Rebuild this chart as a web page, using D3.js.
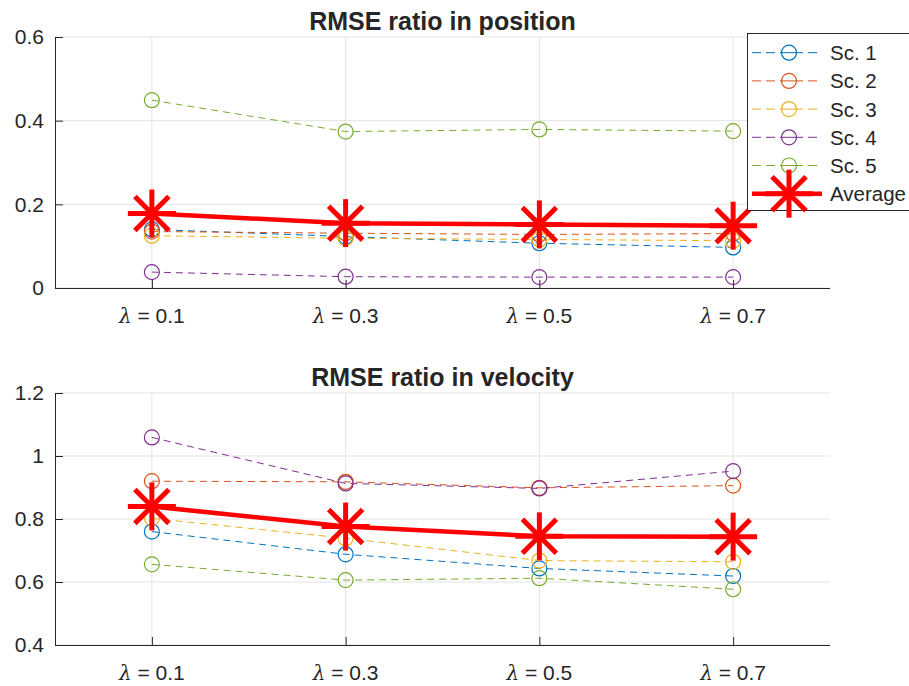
<!DOCTYPE html>
<html>
<head>
<meta charset="utf-8">
<script src="https://cdn.jsdelivr.net/npm/d3@7"></script>
<style>
  html, body { margin: 0; padding: 0; background: #fff; }
  svg { display: block; }
  text { font-family: "Liberation Sans", Arial, Helvetica, sans-serif; fill: #262626; }
</style>
</head>
<body>
<svg id="chart" width="909" height="686"></svg>
<script>
// ---- data ----
const lambdas = [0.1, 0.3, 0.5, 0.7];
const xTickLabels = ["0.1", "0.3", "0.5", "0.7"];
const seriesNames = ["Sc. 1", "Sc. 2", "Sc. 3", "Sc. 4", "Sc. 5"];
const averageName = "Average";

const posSc1 = [0.140, 0.123, 0.107, 0.097];
const posSc2 = [0.135, 0.131, 0.128, 0.130];
const posSc3 = [0.125, 0.119, 0.116, 0.113];
const posSc4 = [0.038, 0.027, 0.026, 0.026];
const posSc5 = [0.449, 0.374, 0.379, 0.375];
const posAvg = [0.178, 0.155, 0.152, 0.149];
const posYTicks = [0, 0.2, 0.4, 0.6];

const velSc1 = [0.760, 0.688, 0.643, 0.619];
const velSc2 = [0.920, 0.918, 0.899, 0.906];
const velSc3 = [0.802, 0.739, 0.668, 0.664];
const velSc4 = [1.059, 0.913, 0.897, 0.952];
const velSc5 = [0.656, 0.606, 0.612, 0.577];
const velAvg = [0.840, 0.776, 0.745, 0.744];
const velYTicks = [0.4, 0.6, 0.8, 1.0, 1.2];

const colors = ["#0072BD", "#D95319", "#EDB120", "#7E2F8E", "#77AC30"];
const avgColor = "#FF0000";

// ---- drawing ----
const svg = d3.select("#chart");
const axisColor = "#262626";
const gridColor = "#e3e3e3";
const left = 55, right = 830;

function star(g, cx, cy, r, w) {
  const angles = [0, 45, 90, 135];
  angles.forEach(a => {
    const rad = a * Math.PI / 180;
    const dx = Math.cos(rad) * r, dy = Math.sin(rad) * r;
    g.append("line")
      .attr("x1", cx - dx).attr("y1", cy - dy)
      .attr("x2", cx + dx).attr("y2", cy + dy)
      .attr("stroke", avgColor).attr("stroke-width", w);
  });
}

function panel(opts) {
  const { top, bottom, yDomain, yTicks, title, series, avg, yFmt } = opts;
  const x = d3.scaleLinear().domain([0, 0.8]).range([left, right]);
  const y = d3.scaleLinear().domain(yDomain).range([bottom, top]);
  const g = svg.append("g");

  // grid
  g.append("g").selectAll("line").data(yTicks).join("line")
    .attr("x1", left).attr("x2", right)
    .attr("y1", d => y(d)).attr("y2", d => y(d))
    .attr("stroke", gridColor).attr("stroke-width", 1);
  g.append("g").selectAll("line").data(lambdas).join("line")
    .attr("x1", d => x(d)).attr("x2", d => x(d))
    .attr("y1", top).attr("y2", bottom)
    .attr("stroke", gridColor).attr("stroke-width", 1);

  // axes (inward ticks)
  const yAxis = d3.axisLeft(y).tickValues(yTicks).tickSize(-8).tickPadding(11)
    .tickFormat(yFmt);
  const ya = g.append("g").attr("transform", `translate(${left},0)`).call(yAxis);
  const xAxis = d3.axisBottom(x).tickValues(lambdas).tickSize(-8).tickPadding(0)
    .tickFormat(() => "");
  const xa = g.append("g").attr("transform", `translate(0,${bottom})`).call(xAxis);
  [ya, xa].forEach(a => {
    a.select(".domain").attr("stroke", axisColor).attr("stroke-width", 1);
    a.selectAll(".tick line").attr("stroke", axisColor);
    a.selectAll("text").attr("font-size", 21).attr("fill", axisColor)
      .attr("font-family", '"Liberation Sans", Arial, sans-serif');
  });
  // replace x domain path (no outer ticks)
  xa.select(".domain").attr("d", `M${left},0.5H${right}`);
  ya.select(".domain").attr("d", `M0.5,${bottom}V${top}`);

  // x tick labels with italic lambda
  const xl = g.append("g");
  lambdas.forEach((d, i) => {
    const t = xl.append("text")
      .attr("x", x(d)).attr("y", bottom + 35)
      .attr("text-anchor", "middle").attr("font-size", 21);
    t.append("tspan").attr("font-style", "italic")
      .attr("font-family", '"DejaVu Serif", serif').attr("font-size", 20).text("λ");
    t.append("tspan").text(" = " + xTickLabels[i]);
  });

  // title
  g.append("text").attr("x", (left + right) / 2).attr("y", top - 7)
    .attr("text-anchor", "middle").attr("font-size", 25).attr("font-weight", "bold")
    .attr("fill", "#000").text(title);

  const line = d3.line().x((d, i) => x(lambdas[i])).y(d => y(d));
  series.forEach((s, k) => {
    g.append("path").datum(s).attr("d", line)
      .attr("fill", "none").attr("stroke", colors[k]).attr("stroke-width", 1)
      .attr("stroke-dasharray", "7,5");
    g.append("g").selectAll("circle").data(s).join("circle")
      .attr("cx", (d, i) => x(lambdas[i])).attr("cy", d => y(d)).attr("r", 7.5)
      .attr("fill", "none").attr("stroke", colors[k]).attr("stroke-width", 1.2);
  });
  g.append("path").datum(avg).attr("d", line)
    .attr("fill", "none").attr("stroke", avgColor).attr("stroke-width", 4.5);
  avg.forEach((d, i) => star(g, x(lambdas[i]), y(d), 24, 5));
}

const fmt = d => (d === 0 ? "0" : d3.format("")(+d.toFixed(1)));

panel({ top: 37, bottom: 288, yDomain: [0, 0.6], yTicks: posYTicks,
  title: "RMSE ratio in position",
  series: [posSc1, posSc2, posSc3, posSc4, posSc5], avg: posAvg, yFmt: fmt });
panel({ top: 393, bottom: 645, yDomain: [0.4, 1.2], yTicks: velYTicks,
  title: "RMSE ratio in velocity",
  series: [velSc1, velSc2, velSc3, velSc4, velSc5], avg: velAvg, yFmt: fmt });

// legend
const lg = svg.append("g");
const lx = 747, ly = 33, lw = 170, lh = 177;
lg.append("rect").attr("x", lx + 0.5).attr("y", ly + 0.5).attr("width", lw).attr("height", lh)
  .attr("fill", "#fff").attr("stroke", axisColor).attr("stroke-width", 1);
const rowY = i => 52.7 + i * 28.2;
seriesNames.forEach((name, k) => {
  const cy = rowY(k);
  lg.append("line").attr("x1", 752).attr("x2", 822).attr("y1", cy).attr("y2", cy)
    .attr("stroke", colors[k]).attr("stroke-width", 1).attr("stroke-dasharray", "9,5");
  lg.append("circle").attr("cx", 789).attr("cy", cy).attr("r", 7.5)
    .attr("fill", "#fff").attr("stroke", colors[k]).attr("stroke-width", 1.2);
  lg.append("line").attr("x1", 781.5).attr("x2", 796.5).attr("y1", cy).attr("y2", cy)
    .attr("stroke", colors[k]).attr("stroke-width", 1);
  lg.append("text").attr("x", 830).attr("y", cy + 7.5).attr("font-size", 20.5)
    .attr("fill", "#000").text(name);
});
const ay = rowY(5);
lg.append("line").attr("x1", 752).attr("x2", 822).attr("y1", ay).attr("y2", ay)
  .attr("stroke", avgColor).attr("stroke-width", 4.5);
star(lg, 789, ay, 24, 5);
lg.append("text").attr("x", 830).attr("y", ay + 7.5).attr("font-size", 20.5)
  .attr("fill", "#000").text(averageName);
</script>
</body>
</html>
